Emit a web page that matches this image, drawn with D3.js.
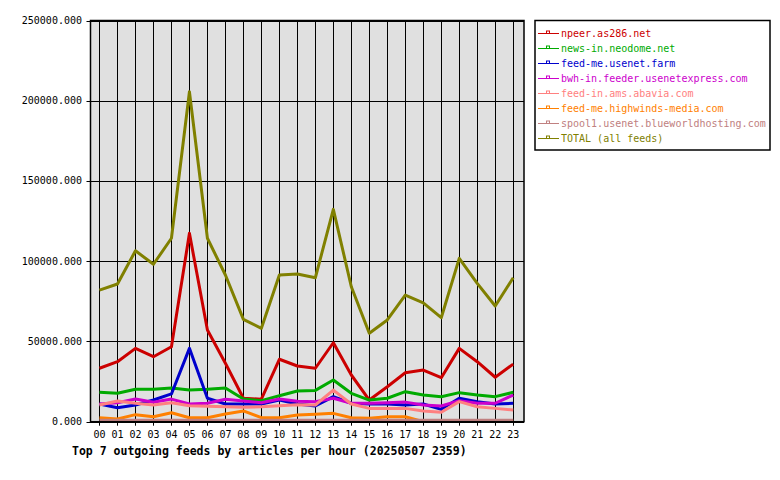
<!DOCTYPE html>
<html>
<head>
<meta charset="utf-8">
<script src="https://cdn.jsdelivr.net/npm/d3@7"></script>
<style>
  body { margin: 0; background: #fff; }
  text { font-family: "DejaVu Sans Mono", "Liberation Mono", monospace; }
</style>
</head>
<body>
<svg id="chart" width="780" height="480"></svg>
<script>
// Hours on the x axis
const hours = d3.range(24).map((h) => String(h).padStart(2, "0"));

// Articles per hour for each feed
const npeer = [33300, 37400, 45700, 40500, 46700, 117400, 57100, 36400, 14600, 14000, 38900, 34700,
  33300, 49200, 29100, 13500, 21800, 30500, 32200, 27400, 45700, 37400, 27700, 35900];
const neodome = [18300, 17700, 20200, 20200, 21000, 19700, 20200, 21000, 14100, 13100, 16200, 19100,
  19500, 26000, 17700, 13500, 14600, 18700, 16600, 15600, 18100, 16600, 15600, 18300];
const usenetFarm = [11000, 8700, 10400, 13500, 17300, 45700, 14600, 11000, 11000, 11000, 13500, 11000,
  9800, 15600, 11500, 11000, 11000, 10400, 11000, 7700, 14600, 12500, 11000, 11500];
const bwh = [11000, 11800, 14100, 12100, 14100, 11000, 11500, 14000, 12900, 11800, 14100, 12700,
  12500, 14600, 11500, 11500, 11800, 12200, 10400, 9800, 13100, 11500, 11500, 16600];
const abavia = [10400, 12900, 11500, 10400, 11800, 10000, 9600, 9300, 9000, 9300, 10000, 10600,
  10400, 19700, 11000, 8300, 8300, 8300, 6700, 5900, 12500, 9300, 8300, 7300];
const highwinds = [2500, 1700, 4400, 3100, 5600, 2500, 2500, 4800, 6700, 2500, 2500, 4200,
  4600, 5200, 2500, 2100, 3100, 3100, 0, 0, 0, 0, 0, 0];
const spool1 = [900, 900, 900, 900, 900, 900, 900, 900, 900, 900, 900, 900,
  900, 900, 900, 900, 900, 900, 900, 900, 900, 900, 900, 900];
const total = [82000, 85800, 106500, 98100, 114300, 205600, 114300, 91400, 63800, 58200, 91400, 92000,
  89700, 132300, 84100, 55100, 63400, 78900, 74100, 64800, 101800, 86200, 72100, 89700];

const feedNames = ["npeer.as286.net", "news-in.neodome.net", "feed-me.usenet.farm",
  "bwh-in.feeder.usenetexpress.com", "feed-in.ams.abavia.com", "feed-me.highwinds-media.com",
  "spool1.usenet.blueworldhosting.com", "TOTAL (all feeds)"];
const feedValues = [npeer, neodome, usenetFarm, bwh, abavia, highwinds, spool1, total];
const feedColors = ["#cc0000", "#00aa00", "#0000cc", "#cc00cc", "#ff8080", "#ff8000", "#c08080", "#808000"];

const yTicks = [0, 50000, 100000, 150000, 200000, 250000];
const title = "Top 7 outgoing feeds by articles per hour (20250507 2359)";

// Plot area
const plotLeft = 90.5, plotRight = 524, plotTop = 20.5, plotBottom = 421.7;

const svg = d3.select("#chart");

const x = d3.scaleLinear().domain([-0.5, 23.6]).range([plotLeft, plotRight]);
const y = d3.scaleLinear().domain([0, 250000]).range([plotBottom, plotTop]);

// Grey background
svg.append("rect")
  .attr("x", plotLeft).attr("y", plotTop)
  .attr("width", plotRight - plotLeft).attr("height", plotBottom - plotTop)
  .attr("fill", "#e0e0e0");

// Grid lines
svg.append("g")
  .selectAll("line")
  .data(hours)
  .join("line")
  .attr("x1", (d, i) => Math.round(x(i)) + 0.5)
  .attr("x2", (d, i) => Math.round(x(i)) + 0.5)
  .attr("y1", plotTop).attr("y2", plotBottom + 4)
  .attr("stroke", "#000");

svg.append("g")
  .selectAll("line")
  .data(yTicks)
  .join("line")
  .attr("x1", plotLeft - 4).attr("x2", plotRight)
  .attr("y1", (d) => Math.round(y(d)) + 0.5)
  .attr("y2", (d) => Math.round(y(d)) + 0.5)
  .attr("stroke", "#000");

// Feed lines, clipped to the plot
svg.append("clipPath").attr("id", "plotclip")
  .append("rect")
  .attr("x", plotLeft).attr("y", plotTop)
  .attr("width", plotRight - plotLeft).attr("height", plotBottom - plotTop);

const line = d3.line()
  .x((d, i) => x(i))
  .y((d) => y(d));

svg.append("g")
  .attr("clip-path", "url(#plotclip)")
  .selectAll("path")
  .data(feedValues)
  .join("path")
  .attr("d", (d) => line(d))
  .attr("fill", "none")
  .attr("stroke", (d, i) => feedColors[i])
  .attr("stroke-width", 3)
  .attr("stroke-linejoin", "round");

// Frame
svg.append("rect")
  .attr("x", plotLeft).attr("y", plotTop)
  .attr("width", plotRight - plotLeft).attr("height", plotBottom - plotTop)
  .attr("fill", "none")
  .attr("stroke", "#000")
  .attr("stroke-width", 1.5);

// Axis labels
svg.append("g")
  .selectAll("text")
  .data(yTicks)
  .join("text")
  .attr("x", 82)
  .attr("y", (d) => y(d) + 3.5)
  .attr("text-anchor", "end")
  .attr("font-size", 10)
  .text((d) => d3.format(".3f")(d));

svg.append("g")
  .selectAll("text")
  .data(hours)
  .join("text")
  .attr("x", (d, i) => x(i))
  .attr("y", 438)
  .attr("text-anchor", "middle")
  .attr("font-size", 10)
  .text((d) => d);

svg.append("text")
  .attr("x", 72)
  .attr("y", 455)
  .attr("font-size", 11.5)
  .attr("font-weight", "bold")
  .text(title);

// Legend
svg.append("rect")
  .attr("x", 535).attr("y", 20.5)
  .attr("width", 235).attr("height", 129.5)
  .attr("fill", "#fff")
  .attr("stroke", "#000")
  .attr("stroke-width", 1.5);

const item = svg.append("g")
  .selectAll("g")
  .data(feedNames)
  .join("g")
  .attr("transform", (d, i) => `translate(0, ${33.5 + i * 15})`);

item.append("line")
  .attr("x1", 538).attr("x2", 559)
  .attr("y1", 0).attr("y2", 0)
  .attr("stroke", (d, i) => feedColors[i]);

item.append("rect")
  .attr("x", 546.5).attr("y", -2.5)
  .attr("width", 3).attr("height", 2.5)
  .attr("fill", "#fff")
  .attr("stroke", (d, i) => feedColors[i]);

item.append("text")
  .attr("x", 561)
  .attr("y", 3)
  .attr("font-size", 10)
  .attr("fill", (d, i) => feedColors[i])
  .text((d) => d);
</script>
</body>
</html>
